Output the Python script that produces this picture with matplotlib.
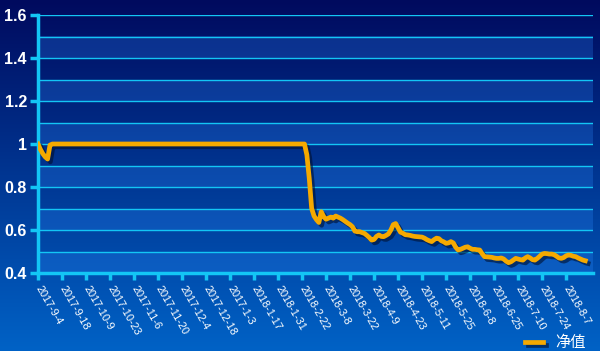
import numpy as np
import matplotlib
matplotlib.use("Agg")
import matplotlib.pyplot as plt
import matplotlib.patheffects as pe

plt.rcParams['font.family'] = ['Liberation Sans', 'Noto Sans CJK SC', 'DejaVu Sans']

# tick labels on the category axis (one every 10 trading days)
date_labels = ['2017-9-4', '2017-9-18', '2017-10-9', '2017-10-23', '2017-11-6',
               '2017-11-20', '2017-12-4', '2017-12-18', '2017-1-3', '2018-1-17',
               '2018-1-31', '2018-2-22', '2018-3-8', '2018-3-22', '2018-4-9',
               '2018-4-23', '2018-5-11', '2018-5-25', '2018-6-8', '2018-6-25',
               '2018-7-10', '2018-7-24', '2018-8-7']

# 净值 series
nav_start = [1.0, 0.975, 0.955, 0.94, 0.93, 0.995]
nav_flat = [1.0] * 106
nav_after = [
    0.95, 0.84, 0.70, 0.665, 0.648, 0.635, 0.685, 0.662, 0.65, 0.655,
    0.66, 0.655, 0.665, 0.66, 0.655, 0.648, 0.64, 0.632, 0.625, 0.615,
    0.595, 0.592, 0.592, 0.588, 0.584, 0.575, 0.565, 0.553, 0.556, 0.57,
    0.577, 0.57, 0.569, 0.575, 0.582, 0.60, 0.625, 0.63, 0.61, 0.59,
    0.585, 0.578, 0.577, 0.575, 0.572, 0.57, 0.569, 0.568, 0.567, 0.562,
    0.555, 0.55, 0.546, 0.555, 0.562, 0.56, 0.55, 0.545, 0.538, 0.54,
    0.546, 0.54, 0.52, 0.507, 0.51, 0.515, 0.52, 0.522, 0.515, 0.51,
    0.51, 0.508, 0.507, 0.49, 0.476, 0.475, 0.474, 0.473, 0.47, 0.468,
    0.468, 0.47, 0.465, 0.455, 0.448, 0.452, 0.46, 0.468, 0.465, 0.462,
    0.46, 0.47, 0.476, 0.47, 0.462, 0.46, 0.468, 0.478, 0.488, 0.491,
    0.49, 0.488, 0.488, 0.485, 0.478, 0.47, 0.468, 0.472, 0.48, 0.484,
    0.482, 0.478, 0.476, 0.47, 0.465, 0.46, 0.457,
]
nav = nav_start + nav_flat + nav_after
label_step = 10

cyan = '#13c6f5'
gold = '#f5a900'

fig = plt.figure(figsize=(6, 3.51), dpi=100)

# background gradient
bg = fig.add_axes([0, 0, 1, 1], zorder=-10)
grad = np.linspace(0, 1, 256).reshape(-1, 1)
cmap = matplotlib.colors.LinearSegmentedColormap.from_list('bg', ['#000a5e', '#0062c6'])
bg.imshow(grad, aspect='auto', cmap=cmap, extent=[0, 1, 0, 1], origin='upper')
bg.set_axis_off()

ax = fig.add_axes([38 / 600, 78 / 351, 555 / 600, 258 / 351])
ax.set_facecolor('none')

x = np.arange(len(nav))
ax.set_xlim(0, 231.2)
ax.set_ylim(0.4, 1.6)

# alternating bands and grid every 0.1
for lo in np.arange(0.4, 1.5, 0.2):
    ax.axhspan(lo, lo + 0.1, color='#2f8cff', alpha=0.25, lw=0, zorder=0)
for g in np.arange(0.5, 1.61, 0.1):
    ax.axhline(g, color=cyan, lw=1, zorder=1)

ax.plot(x, nav, color=gold, lw=3.4, solid_joinstyle='round', zorder=3,
        path_effects=[pe.SimpleLineShadow(offset=(2, -2), shadow_color='#001030', alpha=0.6),
                      pe.Normal()], label='净值')

ax.set_yticks(np.arange(0.4, 1.61, 0.2))
ax.set_yticklabels(['0.4', '0.6', '0.8', '1', '1.2', '1.4', '1.6'])
ax.set_xticks(np.arange(0, len(date_labels) * label_step, label_step))
ax.set_xticklabels(date_labels, rotation=-60, ha='left', va='center',
                   rotation_mode='anchor', fontsize=7.8, color='white')

ax.tick_params(axis='y', colors=cyan, labelcolor='white', length=6, width=2.5,
               labelsize=11.5, pad=2)
for t in ax.get_yticklabels():
    t.set_fontweight('bold')
ax.tick_params(axis='x', colors=cyan, labelcolor='white', length=5, width=2.5, pad=5)

for s in ['top', 'right']:
    ax.spines[s].set_visible(False)
for s in ['left', 'bottom']:
    ax.spines[s].set_color(cyan)
    ax.spines[s].set_linewidth(2.5)

leg = fig.legend(loc='center right', bbox_to_anchor=(586 / 600, 1 - 343 / 351),
                 frameon=False, borderpad=0, borderaxespad=0,
                 handlelength=1.2, handletextpad=0.8, fontsize=11, labelcolor='white')

fig.savefig('out.png', dpi=100)
plt.close(fig)
